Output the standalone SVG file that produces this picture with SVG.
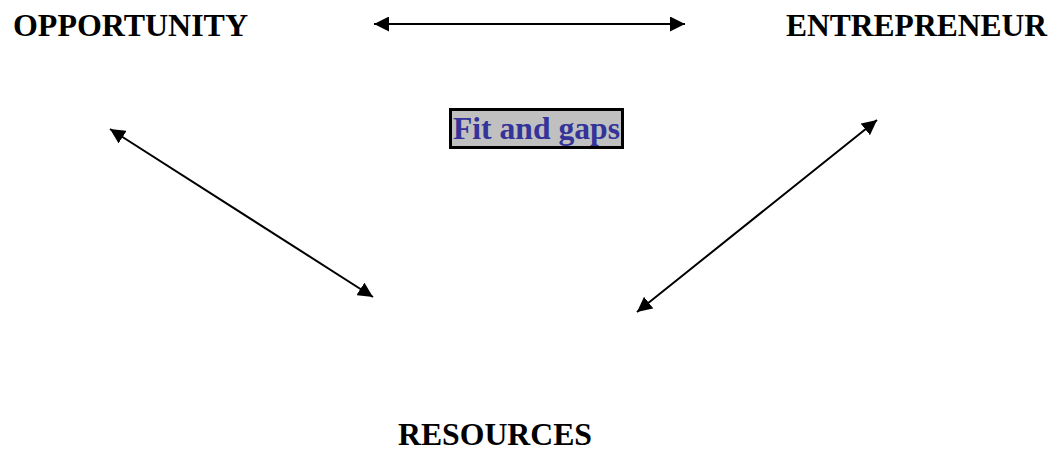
<svg xmlns="http://www.w3.org/2000/svg" width="1049" height="452" viewBox="0 0 1049 452">
<style>
.lbl{font-family:"Liberation Serif","Times New Roman",serif;font-weight:bold;font-size:32px;fill:#000}
.fit{font-family:"Liberation Serif","Times New Roman",serif;font-weight:bold;font-size:32px;fill:#333399}
.conn{stroke:#000;stroke-width:2;fill:none;marker-start:url(#ah);marker-end:url(#ah)}
</style>
<defs>
<marker id="ah" markerUnits="userSpaceOnUse" markerWidth="15" markerHeight="15" viewBox="0 0 15 15" refX="15" refY="7.5" orient="auto-start-reverse">
<path d="M0,0 L15,7.5 L0,15 z" fill="#000"/>
</marker>
</defs>
<rect width="1049" height="452" fill="#fff"/>
<g id="connectors">
<line class="conn" x1="374" y1="24" x2="685" y2="24"/>
<line class="conn" x1="110" y1="129" x2="373" y2="297"/>
<line class="conn" x1="877" y1="120" x2="637" y2="312"/>
</g>
<g id="opportunity"><text class="lbl" x="13" y="36" textLength="235" lengthAdjust="spacingAndGlyphs">OPPORTUNITY</text></g>
<g id="entrepreneur"><text class="lbl" x="786" y="36" textLength="261" lengthAdjust="spacingAndGlyphs">ENTREPRENEUR</text></g>
<g id="resources"><text class="lbl" x="398" y="445" textLength="194" lengthAdjust="spacingAndGlyphs">RESOURCES</text></g>
<g id="fit">
<rect x="450.5" y="109.5" width="172" height="38" fill="#c0c0c0" stroke="#000" stroke-width="3"/>
<text class="fit" x="453" y="138.5" textLength="167" lengthAdjust="spacingAndGlyphs">Fit and gaps</text>
</g>
</svg>
